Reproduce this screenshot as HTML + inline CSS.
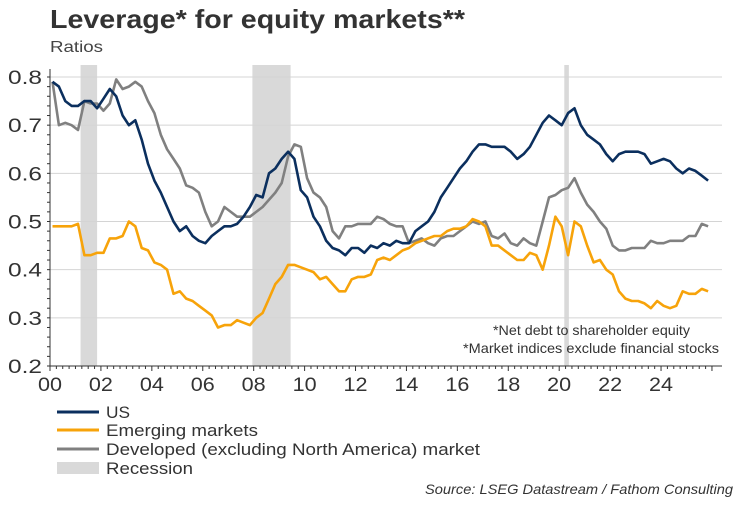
<!DOCTYPE html>
<html><head><meta charset="utf-8"><style>
body{margin:0;background:#fff;width:750px;height:500px;overflow:hidden;font-family:"Liberation Sans",sans-serif;}
</style></head><body>
<svg id="chart" width="750" height="500" xmlns="http://www.w3.org/2000/svg" font-family="Liberation Sans, sans-serif">
<text x="50" y="28" font-size="26" font-weight="bold" fill="#333" textLength="415" lengthAdjust="spacingAndGlyphs">Leverage* for equity markets**</text>
<text x="50" y="52" font-size="16" fill="#444" textLength="53" lengthAdjust="spacingAndGlyphs">Ratios</text>
<g id="plot"></g>
<text x="493" y="335" font-size="14" fill="#333" textLength="197" lengthAdjust="spacingAndGlyphs">*Net debt to shareholder equity</text>
<text x="463" y="353" font-size="14" fill="#333" textLength="256" lengthAdjust="spacingAndGlyphs">*Market indices exclude financial stocks</text>
<g>
<line x1="57" y1="412" x2="99" y2="412" stroke="#0b2f5e" stroke-width="3"/>
<text x="106" y="418" font-size="17" fill="#333" textLength="24" lengthAdjust="spacingAndGlyphs">US</text>
<line x1="57" y1="430" x2="99" y2="430" stroke="#f7a30a" stroke-width="3"/>
<text x="106" y="436" font-size="17" fill="#333" textLength="152" lengthAdjust="spacingAndGlyphs">Emerging markets</text>
<line x1="57" y1="449" x2="99" y2="449" stroke="#808080" stroke-width="3"/>
<text x="106" y="455" font-size="17" fill="#333" textLength="374" lengthAdjust="spacingAndGlyphs">Developed (excluding North America) market</text>
<rect x="57" y="462" width="42" height="12" fill="#d9d9d9"/>
<text x="106" y="474" font-size="17" fill="#333" textLength="87" lengthAdjust="spacingAndGlyphs">Recession</text>
</g>
<text x="425" y="494" font-size="14" font-style="italic" fill="#333" textLength="308" lengthAdjust="spacingAndGlyphs">Source: LSEG Datastream / Fathom Consulting</text>
</svg>
<script>
const yTicks=[0.2,0.3,0.4,0.5,0.6,0.7,0.8];
const xTickLabels=["00","02","04","06","08","10","12","14","16","18","20","22","24"];
const recessionStarts=[2001.2,2007.95,2020.2];
const recessionEnds=[2001.85,2009.45,2020.38];
const usValues=[.79,.78,.75,.74,.74,.75,.75,.735,.755,.775,.76,.72,.70,.71,.67,.62,.585,.56,.53,.50,.48,.49,.47,.46,.455,.47,.48,.49,.49,.495,.51,.53,.555,.55,.60,.61,.63,.645,.63,.565,.55,.51,.49,.46,.445,.44,.43,.445,.445,.435,.45,.445,.455,.45,.46,.455,.455,.48,.49,.50,.52,.55,.57,.59,.61,.625,.645,.66,.66,.655,.655,.655,.645,.63,.64,.655,.68,.705,.72,.71,.70,.725,.735,.70,.68,.67,.66,.64,.625,.64,.645,.645,.645,.64,.62,.625,.63,.625,.61,.60,.61,.605,.595,.585];
const emValues=[.49,.49,.49,.49,.495,.43,.43,.435,.435,.465,.465,.47,.50,.49,.445,.44,.415,.41,.40,.35,.355,.34,.335,.325,.315,.305,.28,.285,.285,.295,.29,.285,.30,.31,.34,.37,.385,.41,.41,.405,.40,.395,.38,.385,.37,.355,.355,.38,.385,.385,.39,.42,.425,.42,.43,.44,.445,.455,.46,.465,.47,.47,.48,.485,.485,.49,.505,.50,.49,.45,.45,.44,.43,.42,.42,.435,.43,.40,.45,.51,.49,.43,.50,.49,.45,.415,.42,.40,.39,.355,.34,.335,.335,.33,.32,.335,.325,.32,.325,.355,.35,.35,.36,.355];
const devValues=[.79,.70,.705,.70,.69,.75,.745,.745,.73,.745,.795,.775,.78,.79,.78,.75,.725,.68,.65,.63,.61,.575,.57,.56,.52,.49,.50,.53,.52,.51,.51,.51,.52,.53,.545,.56,.58,.635,.66,.655,.59,.56,.55,.53,.48,.465,.49,.49,.495,.495,.495,.51,.505,.495,.49,.49,.455,.46,.465,.455,.45,.465,.47,.47,.48,.49,.50,.495,.50,.47,.465,.475,.455,.45,.465,.455,.45,.50,.55,.555,.565,.57,.59,.56,.535,.52,.50,.485,.45,.44,.44,.445,.445,.445,.46,.455,.455,.46,.46,.46,.47,.47,.495,.49];
const years=usValues.map((v,i)=>2000+i*0.25+0.1);

const NS="http://www.w3.org/2000/svg";
const X0=50,X1=722,Y0=366,Y1=77;
const xs=y=>X0+(y-2000)*25.46;
const ys=v=>Y0-(v-0.2)/0.6*(Y0-Y1);
const plot=document.getElementById('plot');
function mk(tag,attrs){const e=document.createElementNS(NS,tag);for(const k in attrs)e.setAttribute(k,attrs[k]);plot.appendChild(e);return e;}

recessionStarts.forEach((s,i)=>{
  const r=mk('rect',{x:xs(s),y:Y1-12,width:xs(recessionEnds[i])-xs(s),height:Y0-Y1+12,fill:'#d9d9d9'});
  
  
});
yTicks.forEach(t=>{
  if(t>0.2){const g=mk('line',{x1:X0,x2:X1,y1:ys(t),y2:ys(t),stroke:'#d4d4d4','stroke-width':1});
  
  }
  const lb=mk('text',{x:8,y:ys(t)+7,'font-size':19,fill:'#333',textLength:34,lengthAdjust:'spacingAndGlyphs'});
  lb.textContent=t.toFixed(1);
  
  
});
for(let v=0.2;v<0.801;v+=0.02){mk('line',{x1:X0-3,x2:X0,y1:ys(v),y2:ys(v),stroke:'#333'});}
for(let m=0;m<=26*4;m++){const yr=2000+m/4;if(xs(yr)>X1)break;mk('line',{x1:xs(yr),x2:xs(yr),y1:Y0,y2:Y0+(m%8===0?5:3),stroke:'#333'});}
const ax=mk('line',{x1:X0,x2:X1,y1:Y0,y2:Y0,stroke:'#333'});


const ay=mk('line',{x1:X0,x2:X0,y1:Y1-8,y2:Y0,stroke:'#333'});


xTickLabels.forEach((l,i)=>{
  const t=mk('text',{x:xs(2000+i*2)-12,y:391,'font-size':19,fill:'#333',textLength:24,lengthAdjust:'spacingAndGlyphs'});
  t.textContent=l;
  
  
});
function series(vals,color,name){
  let d='';vals.forEach((v,i)=>{d+=(i?'L':'M')+xs(years[i]).toFixed(1)+','+ys(v).toFixed(1);});
  const p=mk('path',{d:d,fill:'none',stroke:color,'stroke-width':2.6,'stroke-linejoin':'round'});
  
  
}
series(devValues,'#808080','developed-line');
series(emValues,'#f7a30a','emerging-line');
series(usValues,'#0b2f5e','us-line');
</script>
</body></html>
